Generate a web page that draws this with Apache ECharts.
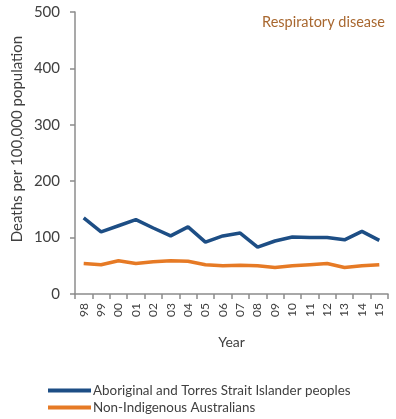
<!DOCTYPE html>
<html>
<head>
<meta charset="utf-8">
<script src="https://cdn.jsdelivr.net/npm/echarts@6/dist/echarts.min.js"></script>
<style>
  html, body { margin: 0; padding: 0; background: #fff; }
  #chart { width: 396px; height: 419px; }
</style>
</head>
<body>
<div id="chart"></div>
<script>
// years on the x axis
const years = ['98', '99', '00', '01', '02', '03', '04', '05', '06', '07', '08', '09', '10', '11', '12', '13', '14', '15'];
// deaths per 100,000
const indigenous = [135, 110, 121, 132, 117, 103, 119, 92, 103, 108, 83, 94, 101, 100, 100, 96, 111, 95];
const nonIndigenous = [54, 52, 59, 54, 57, 59, 58, 52, 50, 51, 50, 47, 50, 52, 54, 47, 50, 52];
const yTicks = [0, 100, 200, 300, 400, 500];

const font = 'Lato';
const textColor = '#404040';
const axisColor = '#8c8c8c';

const chart = echarts.init(document.getElementById('chart'));

chart.setOption({
  animation: false,
  textStyle: { fontFamily: font },
  title: {
    text: 'Respiratory disease',
    right: 6,
    top: 10,
    textStyle: { fontFamily: font, fontSize: 14.5, fontWeight: 'normal', color: '#a8672f' }
  },
  // y axis title sits a bit above the plot's middle in the original
  graphic: [{
    type: 'text',
    x: 17,
    y: 139,
    rotation: Math.PI / 2,
    style: {
      text: 'Deaths per 100,000 population',
      fontFamily: font,
      fontSize: 15,
      fill: textColor,
      align: 'center',
      verticalAlign: 'middle'
    }
  }],
  grid: { left: 75, right: 8, top: 12, bottom: 125 },
  legend: {
    orient: 'vertical',
    left: 48,
    top: 384,
    padding: 0,
    itemWidth: 43,
    itemHeight: 4,
    itemGap: 4,
    icon: 'rect',
    textStyle: { fontFamily: font, fontSize: 13.4, color: textColor, padding: [0, 0, 0, -3] },
    data: ['Aboriginal and Torres Strait Islander peoples', 'Non-Indigenous Australians']
  },
  xAxis: {
    type: 'category',
    data: years,
    boundaryGap: true,
    name: 'Year',
    nameLocation: 'middle',
    nameGap: 41,
    nameTextStyle: { fontFamily: font, fontSize: 14, color: textColor },
    axisLine: { lineStyle: { color: axisColor, width: 1.5 } },
    axisTick: { show: true, length: 5, lineStyle: { color: axisColor, width: 1.5 } },
    axisLabel: { rotate: 90, fontSize: 12, color: textColor, margin: 9 }
  },
  yAxis: {
    type: 'value',
    min: yTicks[0],
    max: yTicks[yTicks.length - 1],
    interval: 100,
    axisLine: { show: true, lineStyle: { color: axisColor, width: 1.5 } },
    axisTick: { show: true, length: 5, lineStyle: { color: axisColor, width: 1.5 } },
    splitLine: { show: false },
    axisLabel: { fontSize: 15, color: textColor, margin: 15 }
  },
  series: [
    {
      name: 'Aboriginal and Torres Strait Islander peoples',
      type: 'line',
      data: indigenous,
      symbol: 'none',
      lineStyle: { color: '#1d4e85', width: 3.5 },
      itemStyle: { color: '#1d4e85' }
    },
    {
      name: 'Non-Indigenous Australians',
      type: 'line',
      data: nonIndigenous,
      symbol: 'none',
      lineStyle: { color: '#e67a25', width: 3.5 },
      itemStyle: { color: '#e67a25' }
    }
  ]
});
</script>
</body>
</html>
